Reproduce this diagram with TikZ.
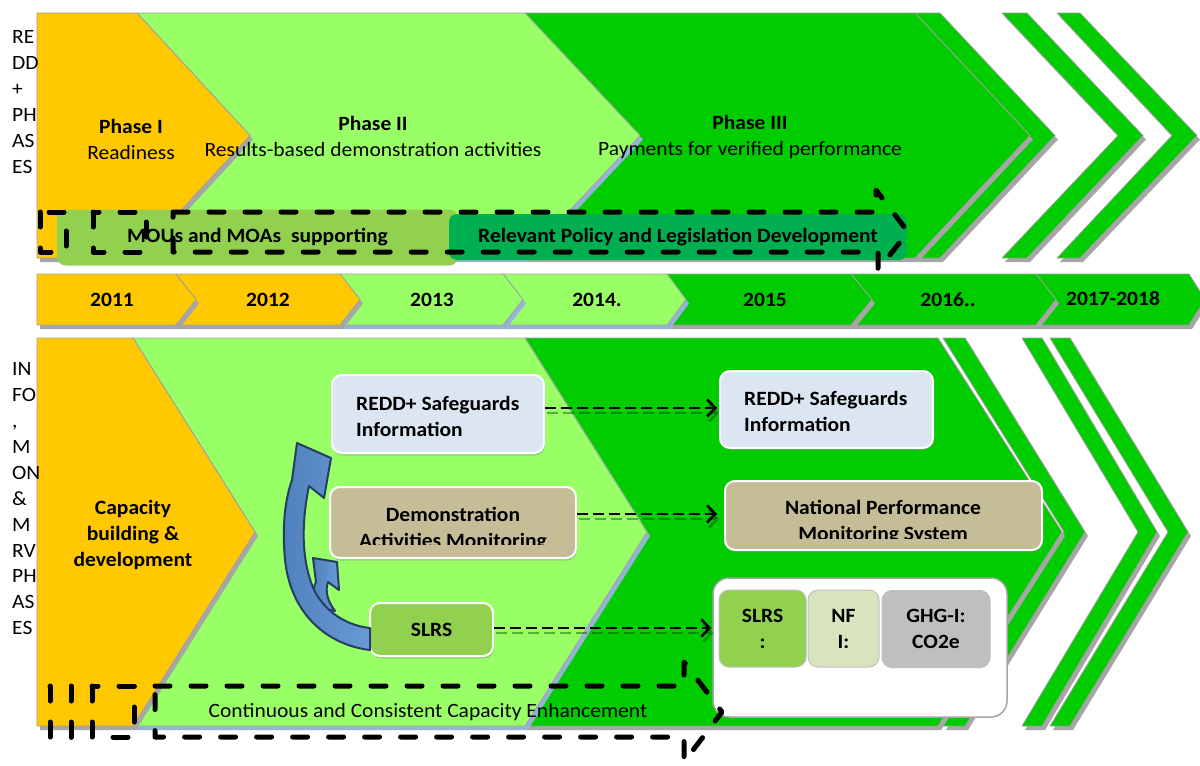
\documentclass[tikz,border=0pt]{standalone}
\usepackage{fontspec}
\setmainfont{Carlito}[FakeStretch=1.06]
\usetikzlibrary{calc,arrows.meta,shadows}
\definecolor{yel}{HTML}{FFC800}
\definecolor{lgr}{HTML}{99FF66}
\definecolor{grn}{HTML}{00CC00}
\definecolor{mou}{HTML}{92D050}
\definecolor{rel}{HTML}{00B050}
\definecolor{shd}{HTML}{A6A6A6}
\definecolor{bshd}{HTML}{95B3D7}
\definecolor{edge}{HTML}{A0A0A0}
\definecolor{bluebox}{HTML}{DCE6F2}
\definecolor{tanbox}{HTML}{C4BD97}
\definecolor{nfi}{HTML}{D7E4BD}
\definecolor{ghg}{HTML}{BFBFBF}
\definecolor{arrblue}{HTML}{4F81BD}
\definecolor{arrlight}{HTML}{6A9AD6}
\definecolor{arrdark}{HTML}{243F60}
\newcommand{\Chev}[8]{%
  \pgfmathsetmacro{\chevmid}{(#5+#6)/2}%
  \fill[#8,shift={(3,4)}] (#1,#5) -- (#2,#5) -- (#3,\chevmid) -- (#2,#6) -- (#1,#6) -- (#4,\chevmid) -- cycle;
  \filldraw[fill=#7,draw=edge,line width=0.8pt,line join=round] (#1,#5) -- (#2,#5) -- (#3,\chevmid) -- (#2,#6) -- (#1,#6) -- (#4,\chevmid) -- cycle;}
\begin{document}
\begin{tikzpicture}[x=1pt,y=-1pt,
  lbl/.style={font=\fontsize{20.3}{26}\selectfont, align=center, inner sep=0pt},
  blbl/.style={font=\fontsize{20.3}{26}\selectfont\bfseries, align=center, inner sep=0pt},
  bltxt/.style={font=\fontsize{20.3}{26}\selectfont\bfseries, align=left, inner sep=0pt, anchor=west},
  side/.style={font=\fontsize{20.3}{25.9}\selectfont, align=left, inner sep=0pt, anchor=north west},
  yr/.style={font=\fontsize{20.3}{24}\selectfont\bfseries, inner sep=0pt},
  box/.style={draw=white, line width=2pt, rounded corners=10pt, inner sep=0pt,
     font=\fontsize{20.3}{26}\selectfont\bfseries,
     drop shadow={shadow xshift=1pt, shadow yshift=-2.5pt, opacity=0.35}},
  ibox/.style={draw=ghg, line width=1pt, rounded corners=10pt, inner sep=0pt,
     font=\fontsize{20.3}{26}\selectfont\bfseries, align=center, minimum height=77pt},
  dsh/.style={draw=black, line width=5pt, dash pattern=on 15pt off 21pt, line cap=round, line join=round},
  conn/.style={draw=black, line width=2.6pt, dash pattern=on 11pt off 5pt, -{Straight Barb[length=8pt,width=17pt,line width=2.6pt]}},
  connsh/.style={draw=black!70!green, opacity=0.45, line width=2.6pt, dash pattern=on 11pt off 5pt, -{Straight Barb[length=8pt,width=17pt,line width=2.6pt]}},
  curv/.style={left color=arrblue, right color=arrlight, draw=arrdark, line width=2pt, line join=round}
]
\useasboundingbox (0,0) rectangle (1200,766);
\fill[white] (0,0) rectangle (1200,766);

% ---- top phases
\Chev{1057}{1080}{1197}{1172}{13}{258}{grn}{shd}
\Chev{1002}{1027}{1143}{1118}{13}{258}{grn}{shd}
\Chev{915}{940}{1055}{1030}{13}{258}{grn}{shd}
\Chev{525}{915}{1030}{640}{13}{258}{grn}{shd}
\Chev{137}{525}{640}{250}{13}{258}{lgr}{bshd}
\Chev{37}{137}{250}{37}{13}{258}{yel}{shd}

% ---- year bar
\Chev{1036}{1189}{1205}{1056}{274}{325}{grn}{shd}
\Chev{851}{1036}{1056}{872}{274}{325}{grn}{shd}
\Chev{667}{851}{872}{686}{274}{325}{grn}{shd}
\Chev{503}{667}{686}{523}{274}{325}{lgr}{bshd}
\Chev{340}{503}{523}{360}{274}{325}{lgr}{bshd}
\Chev{176}{340}{360}{196}{274}{325}{yel}{shd}
\Chev{37}{176}{196}{37}{274}{325}{yel}{shd}

% ---- lower phases
\Chev{1050}{1070}{1188}{1168}{338}{726}{grn}{shd}
\Chev{1022}{1042}{1157}{1138}{338}{726}{grn}{shd}
\Chev{943}{965}{1085}{1064}{338}{726}{grn}{shd}
\Chev{525}{938}{1062}{647}{338}{726}{grn}{shd}
\Chev{133}{525}{647}{255}{338}{726}{lgr}{bshd}
\Chev{37}{133}{255}{37}{338}{726}{yel}{shd}

% ---- top texts
\node[side] (s1) at (12,30.5) {RE\\DD\\+\\PH\\AS\\ES};
\node[lbl] (p1) at (131,139) {\textbf{Phase I}\\Readiness};
\node[lbl] (p2) at (373,136) {\textbf{Phase II}\\Results-based demonstration activities};
\node[lbl] (p3) at (750,137) {\textbf{Phase III}\\Payments for verified performance};

\node[fill=mou, rounded corners=9pt, minimum width=401pt, minimum height=56pt, inner sep=0pt,
      font=\fontsize{20.3}{24}\selectfont\bfseries] (mou) at (257.5,237.5) {MOUs and MOAs\ \ supporting};
\node[fill=rel, rounded corners=8pt, minimum width=458pt, minimum height=46pt, inner sep=0pt,
      font=\fontsize{20.3}{24}\selectfont\bfseries] (rel) at (678,237) {Relevant Policy and Legislation Development};

% ---- years
\node[yr] (y1) at (112,300) {2011};
\node[yr] (y2) at (268,300) {2012};
\node[yr] (y3) at (432,300) {2013};
\node[yr] (y4) at (597,300) {2014.};
\node[yr] (y5) at (765,300) {2015};
\node[yr] (y6) at (948,300) {2016..};
\node[yr] (y7) at (1113,299) {2017-2018};

% ---- lower texts
\node[side] (s2) at (12,362.5) {IN\\FO\\,\\M\\ON\\\&\\M\\RV\\PH\\AS\\ES};
\node[blbl] (cap) at (133,535) {Capacity\\building \&\\development};

% boxes left
\node[box, fill=bluebox, minimum width=212pt, minimum height=78pt] (redL) at (438,414) {};
\node[bltxt] (redLT) at (356,416) {REDD+ Safeguards\\Information};
\node[box, fill=tanbox, minimum width=246pt, minimum height=71pt] (demoL) at (453,522.5) {};
\begin{scope}
  \clip (330,487) rectangle (576,544.5);
  \node[blbl] (demoT) at (453,529.5) {Demonstration\\Activities Monitoring};
\end{scope}
\node[box, fill=mou, minimum width=123pt, minimum height=53pt] (slrsL) at (431.5,629.5) {SLRS};

% boxes right
\node[box, fill=bluebox, minimum width=213pt, minimum height=77pt] (redR) at (826.5,409.5) {};
\node[bltxt] (redRT) at (744,411.5) {REDD+ Safeguards\\Information};
\node[box, fill=tanbox, minimum width=317pt, minimum height=69pt] (natB) at (883.5,515.5) {};
\begin{scope}
  \clip (725,481) rectangle (1042,538);
  \node[blbl] (natT) at (883,522) {National Performance\\Monitoring System};
\end{scope}
\node[draw=shd, line width=1.5pt, fill=white, rounded corners=16pt, minimum width=294pt, minimum height=139pt, inner sep=0pt] (cont) at (860,647.5) {};
\node[ibox, fill=mou, minimum width=87pt] (slrsR) at (762.5,628.5) {SLRS\\:};
\node[ibox, fill=nfi, minimum width=71pt] (nfi) at (843.5,628.5) {NF\\I:};
\node[ibox, fill=ghg, minimum width=108pt] (ghgi) at (936,629) {GHG-I:\\CO2e};

% curved block arrows
\filldraw[curv]
  (318,607) .. controls (312,597) and (312,590) .. (316,582) -- (313,558) -- (337,562) -- (339,590) -- (328,582)
  .. controls (325,591) and (327,600) .. (335,611) -- cycle;
\filldraw[curv]
  (370,650) .. controls (328,645) and (291,615) .. (285,560)
  .. controls (282,525) and (285,500) .. (292,480)
  -- (297,443) -- (331,458) -- (324,498) -- (309,486)
  .. controls (302,520) and (300,560) .. (315,592)
  .. controls (328,615) and (350,626) .. (370,628) -- cycle;

% dashed connectors
\coordinate (a1) at ($(redL.east)+(0,-6)$);
\coordinate (a2) at ($(demoL.east)+(0,-8.5)$);
\coordinate (a3) at ($(slrsL.east)+(0,-1.5)$);
\draw[connsh, shorten >=2pt] ($(a1)+(2,5)$) -- ($(a1 -| redR.west)+(2,5)$);
\draw[connsh, shorten >=7pt] ($(a2)+(2,5)$) -- ($(a2 -| natB.west)+(2,5)$);
\draw[connsh, shorten >=1pt] ($(a3)+(2,5)$) -- ($(a3 -| cont.west)+(2,5)$);
\draw[conn, shorten >=2pt] (a1) -- (a1 -| redR.west);
\draw[conn, shorten >=7pt] (a2) -- (a2 -| natB.west);
\draw[conn, shorten >=1pt] (a3) -- (a3 -| cont.west);

\node[lbl] (cce) at (428,712) {Continuous and Consistent Capacity Enhancement};

% dashed striped arrows
\draw[dsh] (40,212) rectangle (66,252);
\draw[dsh] (93,212) rectangle (146,252);
\draw[dsh] (173,212) -- (876,212) -- (876,190) -- (908,232) -- (878,270) -- (878,252) -- (173,252) -- cycle;
\draw[dsh] (50,686) rectangle (71,737);
\draw[dsh] (92,686) rectangle (134,737);
\draw[dsh] (155,686) -- (684,686) -- (684,662) -- (722,712) -- (684,762) -- (684,737) -- (155,737) -- cycle;
\end{tikzpicture}
\end{document}
